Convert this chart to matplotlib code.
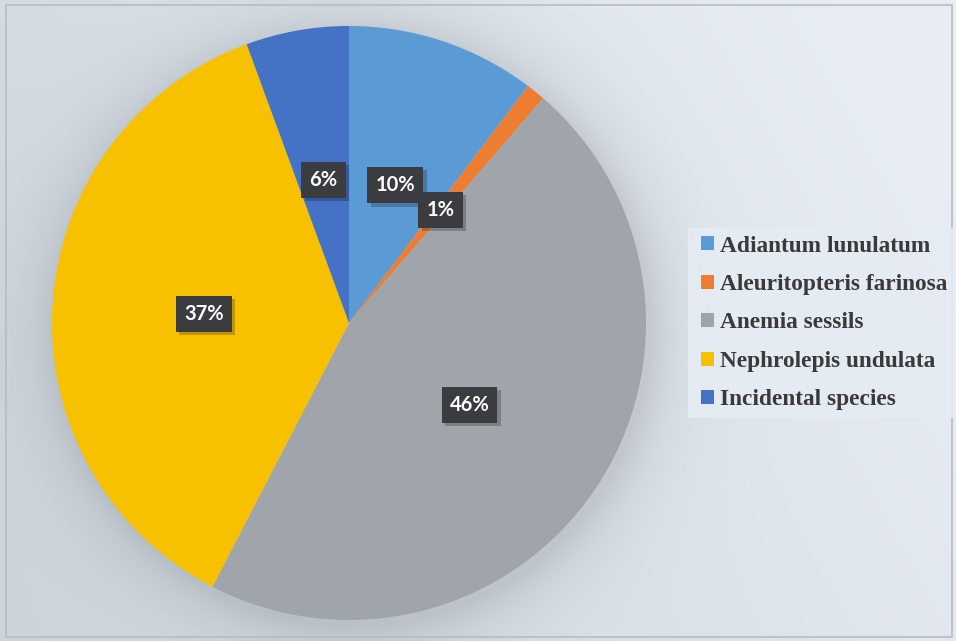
import numpy as np
import matplotlib
matplotlib.use("Agg")
import matplotlib.pyplot as plt
import matplotlib.patheffects as pe

species = ["Adiantum lunulatum", "Aleuritopteris farinosa", "Anemia sessils",
           "Nephrolepis undulata", "Incidental species"]
shares = [10.3, 1.05, 46.25, 36.8, 5.6]
labels = ["10%", "1%", "46%", "37%", "6%"]
colors = ["#5B9BD5", "#ED7D31", "#A0A5AC", "#F7C100", "#4472C4"]

W, H = 956, 641
fig = plt.figure(figsize=(W / 100, H / 100), dpi=100)

# background gradient with soft shadow around the pie
bg_ax = fig.add_axes([0, 0, 1, 1])
yy, xx = np.mgrid[0:H, 0:W]
t = np.clip((xx / W) * 0.8 + (1 - yy / H) * 0.3, 0, 1)
c0 = np.array([0.80, 0.83, 0.86])
c1 = np.array([0.91, 0.93, 0.96])
img = c0[None, None, :] * (1 - t[..., None]) + c1[None, None, :] * t[..., None]
cx, cy, r = 349, 323, 297
d = np.hypot(xx - cx - 4, yy - cy - 6)
shadow = np.where(d > r, np.exp(-(d - r) / 30.0), 1.0) * 0.12
img = img * (1 - shadow[..., None])
bg_ax.imshow(img, extent=[0, W, H, 0], aspect="auto")
bg_ax.set_xlim(0, W)
bg_ax.set_ylim(H, 0)
bg_ax.axis("off")
bg_ax.add_patch(plt.Rectangle((6, 5), W - 10, H - 9, fill=False,
                              edgecolor="#B8BCC2", linewidth=1.2))
# legend panel
bg_ax.add_patch(plt.Rectangle((688, 228), 268, 190, facecolor="#E6ECF3",
                              edgecolor="none", alpha=0.9))

ax = fig.add_axes([(cx - r) / W, (H - cy - r) / H, 2 * r / W, 2 * r / H])
wedges, _ = ax.pie(shares, colors=colors, startangle=90, counterclock=False,
                   wedgeprops=dict(linewidth=0))
ax.set_xlim(-1, 1)
ax.set_ylim(-1, 1)
ax.set_aspect("equal")

theta = 90.0
total = sum(shares)
for v, label in zip(shares, labels):
    span = 360.0 * v / total
    mid = np.deg2rad(theta - span / 2)
    theta -= span
    x, y = 0.49 * np.cos(mid), 0.49 * np.sin(mid)
    txt = ax.text(x, y, label, ha="center", va="center", fontsize=14.5,
                  fontweight="bold", family="Lato", color="white",
                  bbox=dict(boxstyle="square,pad=0.4", facecolor="#3A3C40",
                            edgecolor="none"))
    txt.get_bbox_patch().set_path_effects(
        [pe.SimplePatchShadow(offset=(2.5, -2.5), shadow_rgbFace="black", alpha=0.22),
         pe.Normal()])

leg = fig.legend(wedges, species, loc="center left",
                 bbox_to_anchor=(680 / W, 1 - 323 / H), frameon=False,
                 prop=dict(family="Liberation Serif", weight="bold", size=16.8),
                 handlelength=0.55, handleheight=0.55, handletextpad=0.25,
                 labelspacing=0.75, labelcolor="#3A3A3A")

fig.savefig("out.png", dpi=100)
